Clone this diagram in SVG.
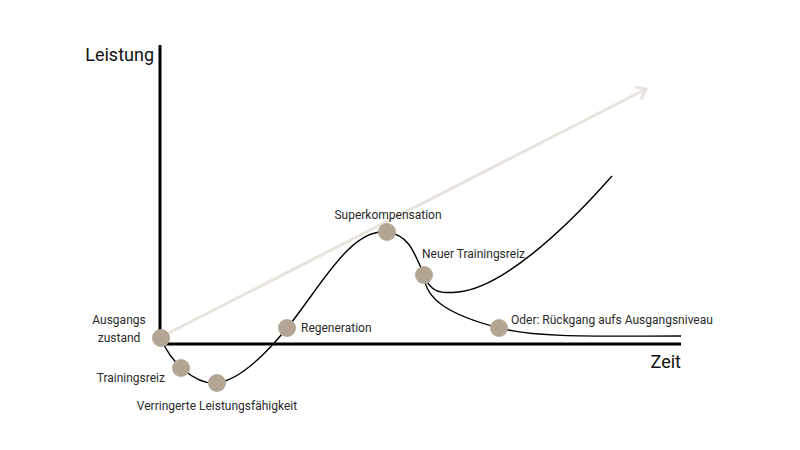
<svg xmlns="http://www.w3.org/2000/svg" width="800" height="450" viewBox="0 0 800 450">
<style>
.axis{stroke:#000;stroke-width:3;fill:none}
.curve{stroke:#000;stroke-width:1.4;fill:none}
.trend{stroke:#e8e4dd;stroke-width:3;fill:none}
.node circle{fill:#b4a694}
text{font-family:Roboto,"Liberation Sans",sans-serif;font-size:12px;fill:#2a2a2a}
.big{font-size:18px;fill:#111}
</style>
<defs>
<marker id="open" markerUnits="userSpaceOnUse" markerWidth="20" markerHeight="20" refX="10" refY="10" orient="auto">
<path d="M1,3 L10,10 L1,17" fill="none" stroke="#e8e4dd" stroke-width="3"/>
</marker>
</defs>
<rect width="800" height="450" fill="#fff"/>
<g id="connectors">
<line class="trend" x1="161" y1="337" x2="646" y2="89" marker-end="url(#open)"/>
<path class="curve" d="M161,338 C170,362 195,385 217,383 C240,380 265,355 287,328 C320,288 350,228 387,232 C410,235 415,255 424,275"/>
<path class="curve" d="M424,275 C430,292 440,294 458,292 C500,288 560,235 612,176"/>
<path class="curve" d="M424,275 C425,300 450,315 499,328 C540,338 600,336 681,336"/>
<line class="axis" x1="160" y1="45" x2="160" y2="345"/>
<line class="axis" x1="159" y1="344" x2="681" y2="344"/>
</g>
<text class="big" x="154" y="61" text-anchor="end">Leistung</text>
<text class="big" x="681" y="368" text-anchor="end">Zeit</text>
<g id="ausgangszustand" class="node"><circle cx="161" cy="338" r="9"/><text x="119" y="324" text-anchor="middle">Ausgangs</text><text x="119" y="342" text-anchor="middle">zustand</text></g>
<g id="trainingsreiz" class="node"><circle cx="181" cy="368" r="9"/><text x="165" y="382" text-anchor="end">Trainingsreiz</text></g>
<g id="verringerte" class="node"><circle cx="217" cy="383" r="9"/><text x="217" y="410" text-anchor="middle">Verringerte Leistungsfähigkeit</text></g>
<g id="regeneration" class="node"><circle cx="287" cy="328" r="9"/><text x="301" y="332">Regeneration</text></g>
<g id="superkompensation" class="node"><circle cx="387" cy="232" r="9"/><text x="388" y="219" text-anchor="middle">Superkompensation</text></g>
<g id="neuer-trainingsreiz" class="node"><circle cx="424" cy="275" r="9"/><text x="422" y="258">Neuer Trainingsreiz</text></g>
<g id="rueckgang" class="node"><circle cx="499" cy="328" r="9"/><text x="511" y="324">Oder: Rückgang aufs Ausgangsniveau</text></g>
</svg>
